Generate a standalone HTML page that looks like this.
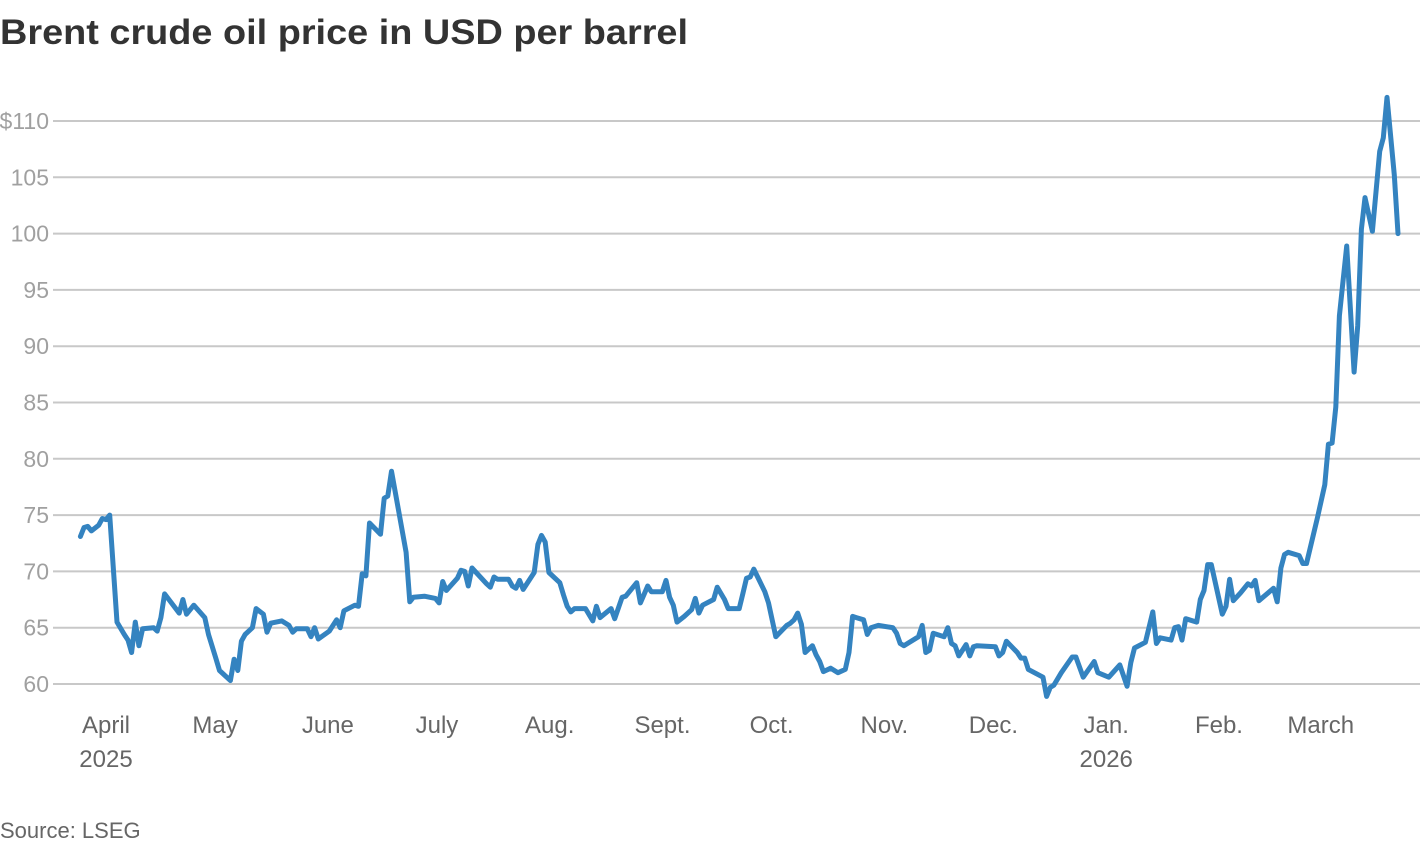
<!DOCTYPE html>
<html><head><meta charset="utf-8"><style>
html,body{margin:0;padding:0;background:#fff;}
body{width:1420px;height:844px;overflow:hidden;font-family:"Liberation Sans",sans-serif;}
</style></head><body>
<svg id="chart" width="1420" height="844" xmlns="http://www.w3.org/2000/svg">
<text x="0" y="44" font-family="Liberation Sans, sans-serif" font-weight="bold" font-size="35" fill="#333" textLength="688" lengthAdjust="spacingAndGlyphs">Brent crude oil price in USD per barrel</text>
<g id="grid"></g>
<g id="yticks"></g>
<g id="xticks"></g>
<path id="line" fill="none" stroke="#3483c0" stroke-width="5" stroke-linejoin="round" stroke-linecap="round"/>
<text x="0" y="838" font-size="22" fill="#666">Source: LSEG</text>
</svg>
<script>
// days since 2025-04-01
const days = [-7,-6,-5,-4,-2,-1,0,1,3,5,6,7,8,9,10,13,14,15,16,20,21,22,24,27,28,30,31,34,35,36,37,38,40,41,43,44,45,48,50,51,52,55,56,57,58,61,63,64,65,68,69,70,71,72,75,76,77,78,82,83,84,87,90,91,92,93,96,97,98,99,100,104,105,106,107,110,111,112,113,114,117,118,119,120,121,124,125,126,127,128,131,133,134,135,138,139,141,142,145,146,148,149,152,153,154,155,156,158,160,161,162,163,166,167,169,170,173,174,175,176,177,180,181,183,186,187,188,189,190,191,193,194,195,196,198,200,202,203,204,205,207,208,209,211,215,216,217,218,219,222,223,224,225,226,229,230,231,232,233,235,236,237,238,243,244,245,246,249,250,251,252,256,257,258,259,261,264,265,267,270,271,274,277,279,280,281,284,286,287,288,291,292,293,294,295,298,299,300,301,302,305,306,307,308,310,312,313,314,315,319,320,321,322,323,326,327,328,331,333,334,335,336,337,339,341,342,343,344,346,348,349,350,352,353];
const prices = [73.1,73.9,74.0,73.6,74.1,74.7,74.6,75.0,65.5,64.4,63.9,62.8,65.5,63.4,64.9,65.0,64.7,65.9,68.0,66.3,67.5,66.2,67.0,65.9,64.4,62.3,61.2,60.3,62.2,61.2,63.8,64.4,65.0,66.7,66.2,64.6,65.4,65.6,65.2,64.6,64.9,64.9,64.2,65.0,64.0,64.7,65.7,65.0,66.5,67.0,66.9,69.8,69.6,74.3,73.3,76.5,76.7,78.9,71.7,67.3,67.7,67.8,67.6,67.2,69.1,68.3,69.4,70.1,70.0,68.7,70.3,68.9,68.6,69.5,69.3,69.3,68.7,68.5,69.2,68.4,69.9,72.4,73.2,72.6,69.9,69.0,67.9,66.9,66.4,66.7,66.7,65.6,66.9,65.9,66.7,65.8,67.7,67.8,69.0,67.2,68.7,68.2,68.2,69.2,67.7,67.0,65.5,66.0,66.6,67.6,66.3,67.0,67.5,68.6,67.5,66.7,66.7,68.0,69.4,69.5,70.2,68.2,67.2,64.2,65.2,65.4,65.7,66.3,65.3,62.8,63.4,62.6,62.0,61.1,61.4,61.0,61.3,62.8,66.0,65.9,65.7,64.4,65.0,65.2,65.0,64.5,63.6,63.4,63.6,64.2,65.2,62.8,63.0,64.5,64.2,65.0,63.6,63.4,62.5,63.5,62.5,63.3,63.4,63.3,62.5,62.8,63.8,62.8,62.3,62.3,61.3,60.6,58.9,59.7,59.9,61.0,62.4,62.4,60.6,62.0,61.0,60.6,61.7,59.8,61.9,63.2,63.7,66.4,63.6,64.1,63.9,65.0,65.1,63.9,65.8,65.5,67.5,68.3,70.6,70.6,66.2,66.9,69.3,67.4,68.1,68.9,68.7,69.2,67.4,68.5,67.3,70.3,71.5,71.7,71.4,70.7,70.7,74.8,77.7,81.3,81.4,84.6,92.7,98.9,87.7,91.8,100.4,103.2,100.2,107.3,108.5,112.1,105.2,100.0];
const yTicks = [60,65,70,75,80,85,90,95,100,105,110];
const yTickLabels = ["60","65","70","75","80","85","90","95","100","105","$110"];
const monthDays = [0,30,61,91,122,153,183,214,244,275,306,334];
const monthLabels = ["April","May","June","July","Aug.","Sept.","Oct.","Nov.","Dec.","Jan.","Feb.","March"];
const yearLabels = ["2025","","","","","","","","","2026","",""];

const NS="http://www.w3.org/2000/svg";
const xs = d => 106 + d*3.66;
const ys = p => 684 - (p-60)*11.26;

const grid=document.getElementById('grid'), yt=document.getElementById('yticks'), xt=document.getElementById('xticks');
yTicks.forEach((v,i)=>{
  const l=document.createElementNS(NS,'line');
  
  
  l.setAttribute('x1',53);l.setAttribute('x2',1420);l.setAttribute('y1',ys(v));l.setAttribute('y2',ys(v));
  l.setAttribute('stroke','#c8c8c8');l.setAttribute('stroke-width','2');
  grid.appendChild(l);
  const t=document.createElementNS(NS,'text');
  
  
  t.setAttribute('x',49);t.setAttribute('y',ys(v)+8);t.setAttribute('text-anchor','end');
  t.setAttribute('font-size','23');t.setAttribute('fill','#a0a0a0');
  t.textContent=yTickLabels[i];
  yt.appendChild(t);
});
monthDays.forEach((d,i)=>{
  const t=document.createElementNS(NS,'text');
  
  
  t.setAttribute('x',xs(d)-i*0.7);t.setAttribute('y',733);t.setAttribute('text-anchor','middle');
  t.setAttribute('font-size','24');t.setAttribute('fill','#666');
  t.textContent=monthLabels[i];
  xt.appendChild(t);
  if(yearLabels[i]){
    const y=document.createElementNS(NS,'text');
    
    
    y.setAttribute('x',xs(d)-i*0.7);y.setAttribute('y',767);y.setAttribute('text-anchor','middle');
    y.setAttribute('font-size','24');y.setAttribute('fill','#666');
    y.textContent=yearLabels[i];
    xt.appendChild(y);
  }
});
document.getElementById('line').setAttribute('d', days.map((d,i)=>(i?'L':'M')+xs(d).toFixed(1)+','+ys(prices[i]).toFixed(1)).join(''));
</script>
</body></html>
